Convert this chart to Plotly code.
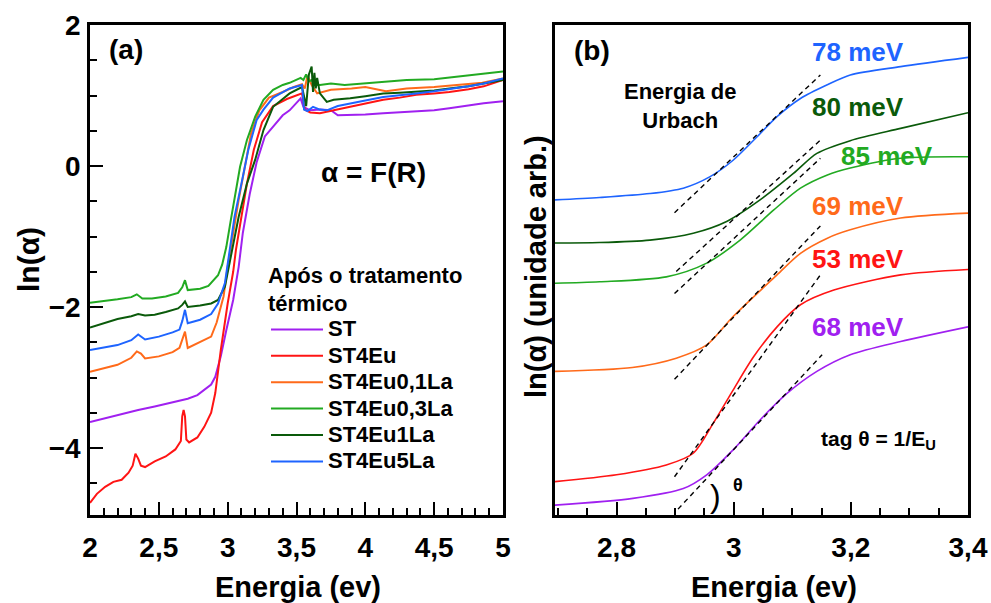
import plotly.graph_objects as go

W, H = 991, 603
FONT = "Liberation Sans"

# ---------------- Panel (a): ln(alpha) vs energy ----------------
names_a = ["ST", "ST4Eu", "ST4Eu0,1La", "ST4Eu0,3La", "ST4Eu1La", "ST4Eu5La"]
colors = {"ST": "#a020f0", "ST4Eu": "#ff1414", "ST4Eu0,1La": "#ff6a1a",
          "ST4Eu0,3La": "#22aa22", "ST4Eu1La": "#0a5a0a", "ST4Eu5La": "#1e64ff"}

E_ST = [2.00, 2.10, 2.23, 2.35, 2.47, 2.60, 2.71, 2.78, 2.83, 2.88, 2.91, 2.95, 2.99, 3.04, 3.08, 3.11,
        3.16, 3.21, 3.27, 3.33, 3.40, 3.45, 3.53, 3.55, 3.60, 3.67, 3.75, 3.80, 3.89, 4.00, 4.13, 4.25,
        4.37, 4.50, 4.61, 4.75, 4.86, 5.00]
A_ST = [-3.63, -3.58, -3.51, -3.46, -3.41, -3.35, -3.30, -3.25, -3.18, -3.10, -2.99, -2.70, -2.33, -1.90,
        -1.43, -0.95, -0.40, 0.05, 0.42, 0.56, 0.72, 0.79, 0.96, 0.84, 0.79, 0.80, 0.79, 0.72, 0.72, 0.73,
        0.75, 0.76, 0.77, 0.79, 0.82, 0.86, 0.89, 0.92]

E_EU = [2.00, 2.05, 2.11, 2.17, 2.23, 2.28, 2.31, 2.33, 2.35, 2.37, 2.40, 2.47, 2.55, 2.62, 2.66, 2.67,
        2.68, 2.69, 2.70, 2.72, 2.78, 2.83, 2.88, 2.91, 2.95, 2.98, 3.00, 3.04, 3.06, 3.10, 3.14, 3.19,
        3.25, 3.33, 3.43, 3.54, 3.56, 3.60, 3.67, 3.77, 3.89, 4.00, 4.13, 4.25, 4.37, 4.50, 4.61, 4.75,
        4.86, 5.00]
A_EU = [-4.78, -4.65, -4.55, -4.48, -4.45, -4.35, -4.25, -4.08, -4.15, -4.25, -4.27, -4.19, -4.12, -4.02,
        -3.90, -3.55, -3.46, -3.55, -3.88, -3.92, -3.85, -3.70, -3.50, -3.22, -2.61, -2.20, -1.95, -1.50,
        -1.19, -0.72, -0.25, 0.23, 0.62, 0.85, 0.95, 1.03, 0.80, 0.76, 0.75, 0.79, 0.84, 0.88, 0.94, 0.97,
        1.01, 1.03, 1.05, 1.09, 1.13, 1.22]

E_01 = [2.00, 2.10, 2.20, 2.30, 2.34, 2.37, 2.40, 2.50, 2.60, 2.65, 2.67, 2.69, 2.71, 2.80, 2.88, 2.92,
        2.97, 3.00, 3.04, 3.08, 3.125, 3.17, 3.23, 3.30, 3.40, 3.48, 3.54, 3.56, 3.58, 3.61, 3.65, 3.75,
        3.90, 4.00, 4.15, 4.30, 4.50, 4.70, 4.85, 5.00]
A_01 = [-2.92, -2.87, -2.82, -2.72, -2.63, -2.66, -2.73, -2.70, -2.64, -2.58, -2.45, -2.35, -2.58, -2.50,
        -2.42, -2.22, -1.85, -1.43, -0.95, -0.48, -0.01, 0.46, 0.79, 0.97, 1.05, 1.12, 1.16, 1.10, 1.28,
        1.15, 1.03, 1.08, 1.10, 1.12, 1.06, 1.10, 1.12, 1.15, 1.18, 1.24]

E_03 = [2.00, 2.10, 2.20, 2.30, 2.34, 2.38, 2.45, 2.55, 2.64, 2.67, 2.69, 2.71, 2.80, 2.86, 2.90, 2.93,
        2.96, 2.99, 3.02, 3.05, 3.09, 3.14, 3.20, 3.26, 3.33, 3.40, 3.45, 3.53, 3.55, 3.57, 3.59, 3.61,
        3.63, 3.67, 3.75, 3.85, 4.00, 4.15, 4.30, 4.50, 4.70, 4.85, 5.00]
A_03 = [-1.94, -1.92, -1.89, -1.86, -1.82, -1.88, -1.88, -1.85, -1.80, -1.72, -1.62, -1.76, -1.74, -1.70,
        -1.62, -1.55, -1.40, -1.15, -0.80, -0.48, -0.01, 0.37, 0.70, 0.94, 1.08, 1.15, 1.18, 1.25, 1.22,
        1.30, 1.20, 1.22, 1.15, 1.15, 1.17, 1.15, 1.17, 1.20, 1.22, 1.23, 1.27, 1.31, 1.34]

E_1 = [2.00, 2.10, 2.20, 2.30, 2.35, 2.40, 2.47, 2.55, 2.64, 2.67, 2.69, 2.71, 2.80, 2.88, 2.93, 2.98,
       3.03, 3.08, 3.14, 3.20, 3.26, 3.33, 3.40, 3.45, 3.54, 3.555, 3.57, 3.59, 3.61, 3.62, 3.63, 3.64,
       3.65, 3.67, 3.72, 3.77, 3.89, 4.00, 4.13, 4.25, 4.37, 4.50, 4.61, 4.75, 4.86, 5.00]
A_1 = [-2.29, -2.23, -2.17, -2.13, -2.10, -2.12, -2.11, -2.07, -2.02, -1.97, -1.92, -2.00, -1.98, -1.95,
       -1.90, -1.71, -1.19, -0.72, -0.25, 0.09, 0.51, 0.84, 0.95, 1.03, 1.12, 1.00, 0.85, 1.30, 1.41,
       1.05, 1.32, 1.10, 1.25, 1.03, 0.91, 0.94, 0.96, 0.99, 1.03, 1.04, 1.05, 1.07, 1.10, 1.13, 1.17, 1.22]

E_5 = [2.00, 2.10, 2.20, 2.30, 2.35, 2.40, 2.50, 2.60, 2.65, 2.67, 2.69, 2.71, 2.80, 2.88, 2.93, 2.98,
       3.017, 3.05, 3.10, 3.15, 3.21, 3.26, 3.33, 3.40, 3.45, 3.54, 3.555, 3.58, 3.62, 3.67, 3.72, 3.80,
       3.89, 4.00, 4.13, 4.25, 4.37, 4.50, 4.61, 4.75, 4.86, 5.00]
A_5 = [-2.61, -2.58, -2.54, -2.47, -2.39, -2.46, -2.42, -2.36, -2.32, -2.20, -2.04, -2.23, -2.18, -2.10,
       -1.95, -1.66, -1.19, -0.72, -0.25, 0.23, 0.65, 0.80, 0.97, 1.05, 1.10, 1.15, 0.80, 0.78, 0.84, 0.80,
       0.79, 0.85, 0.89, 0.93, 0.98, 1.00, 1.03, 1.06, 1.09, 1.13, 1.17, 1.24]

series_a = {"ST": (E_ST, A_ST), "ST4Eu": (E_EU, A_EU), "ST4Eu0,1La": (E_01, A_01),
            "ST4Eu0,3La": (E_03, A_03), "ST4Eu1La": (E_1, A_1), "ST4Eu5La": (E_5, A_5)}

# ---------------- Panel (b): Urbach region (arbitrary units) ----------------
EB_5 = [2.694, 2.771, 2.857, 2.914, 2.959, 2.999, 3.040, 3.074, 3.114, 3.160, 3.199, 3.285, 3.400]
YB_5 = [6.43, 6.48, 6.56, 6.67, 6.90, 7.24, 7.72, 8.13, 8.50, 8.78, 8.98, 9.15, 9.34]
EB_1 = [2.694, 2.771, 2.857, 2.931, 2.988, 3.045, 3.102, 3.142, 3.199, 3.285, 3.400]
YB_1 = [5.55, 5.56, 5.61, 5.75, 5.99, 6.43, 6.97, 7.38, 7.64, 7.89, 8.21]
EB_03 = [2.694, 2.771, 2.885, 2.954, 3.011, 3.068, 3.114, 3.160, 3.199, 3.285, 3.400]
YB_03 = [4.73, 4.76, 4.86, 5.14, 5.61, 6.22, 6.67, 6.94, 7.08, 7.28, 7.31]
EB_01 = [2.694, 2.827, 2.902, 2.954, 2.999, 3.074, 3.114, 3.160, 3.199, 3.285, 3.400]
YB_01 = [2.93, 3.01, 3.20, 3.47, 4.05, 4.90, 5.34, 5.65, 5.82, 6.06, 6.16]
EB_EU = [2.694, 2.800, 2.885, 2.931, 2.965, 2.999, 3.034, 3.074, 3.114, 3.171, 3.285, 3.400]
YB_EU = [0.68, 0.82, 1.02, 1.26, 1.87, 2.55, 3.23, 3.84, 4.29, 4.59, 4.90, 5.01]
EB_ST = [2.694, 2.828, 2.914, 2.954, 2.999, 3.045, 3.091, 3.142, 3.199, 3.285, 3.400]
YB_ST = [0.20, 0.34, 0.54, 0.82, 1.33, 1.94, 2.48, 2.93, 3.27, 3.54, 3.84]

series_b = {"ST4Eu5La": (EB_5, YB_5), "ST4Eu1La": (EB_1, YB_1), "ST4Eu0,3La": (EB_03, YB_03),
            "ST4Eu0,1La": (EB_01, YB_01), "ST4Eu": (EB_EU, YB_EU), "ST": (EB_ST, YB_ST)}

# tangent (Urbach fit) lines: energy endpoints and values
TAN_E0 = {"ST4Eu5La": 2.899, "ST4Eu1La": 2.902, "ST4Eu0,3La": 2.899, "ST4Eu0,1La": 2.899, "ST4Eu": 2.899, "ST": 2.905}
TAN_E1 = {"ST4Eu5La": 3.148, "ST4Eu1La": 3.148, "ST4Eu0,3La": 3.148, "ST4Eu0,1La": 3.148, "ST4Eu": 3.148, "ST": 3.151}
TAN_Y0 = {"ST4Eu5La": 6.17, "ST4Eu1La": 4.97, "ST4Eu0,3La": 4.52, "ST4Eu0,1La": 2.77, "ST4Eu": 0.78, "ST": 0.12}
TAN_Y1 = {"ST4Eu5La": 8.98, "ST4Eu1La": 7.65, "ST4Eu0,3La": 7.28, "ST4Eu0,1La": 5.90, "ST4Eu": 4.90, "ST": 3.27}

urbach_labels = ["78 meV", "80 meV", "85 meV", "69 meV", "53 meV", "68 meV"]
urbach_series = ["ST4Eu5La", "ST4Eu1La", "ST4Eu0,3La", "ST4Eu0,1La", "ST4Eu", "ST"]

fig = go.Figure()

for n in names_a:
    ex, ay = series_a[n]
    fig.add_trace(go.Scatter(x=ex, y=ay, mode="lines", name=f'<span style="font-size:22px">{n}</span>',
                             line=dict(color=colors[n], width=2), xaxis="x", yaxis="y"))

for n in urbach_series:
    ex, by = series_b[n]
    fig.add_trace(go.Scatter(x=ex, y=by, mode="lines", showlegend=False,
                             line=dict(color=colors[n], width=1.6, shape="spline", smoothing=0.8),
                             xaxis="x2", yaxis="y2"))
    fig.add_trace(go.Scatter(x=[TAN_E0[n], TAN_E1[n]], y=[TAN_Y0[n], TAN_Y1[n]], mode="lines",
                             showlegend=False, line=dict(color="black", width=1.4, dash="5px,4px"),
                             xaxis="x2", yaxis="y2"))


def px(x):
    return x / W


def py(y):
    return 1 - y / H


tickfont = dict(family=FONT, size=28, color="black", weight="bold")
common_axis = dict(showline=True, linewidth=2.5, linecolor="black", mirror=True, showgrid=False,
                   zeroline=False, ticks="inside", tickcolor="black", tickwidth=1.5, tickfont=tickfont,
                   automargin=False)

fig.update_layout(
    width=W, height=H, margin=dict(l=0, r=0, t=0, b=0, autoexpand=False),
    paper_bgcolor="white", plot_bgcolor="white",
    separators=", ",
    font=dict(family=FONT, color="black"),
    xaxis=dict(domain=[px(90), px(503)], range=[2, 5], dtick=0.5, tick0=2, ticklen=13,
               ticklabelstandoff=6,
               minor=dict(dtick=0.1, ticklen=7, ticks="inside", tickcolor="black", tickwidth=1.5),
               anchor="y", **common_axis),
    yaxis=dict(domain=[py(515), py(25)], range=[-4.95, 2], dtick=2, tick0=0, ticklen=13,
               ticklabelstandoff=1,
               minor=dict(dtick=0.5, ticklen=7, ticks="inside", tickcolor="black", tickwidth=1.5),
               anchor="x", **common_axis),
    xaxis2=dict(domain=[px(555), px(968)], range=[2.695, 3.4], dtick=0.2, tick0=2.8, ticklen=13,
                ticklabelstandoff=6,
                minor=dict(dtick=0.05, ticklen=7, ticks="inside", tickcolor="black", tickwidth=1.5),
                anchor="y2", **common_axis),
    yaxis2=dict(domain=[py(515), py(25)], range=[0, 10], showticklabels=False, ticks="",
                showline=True, linewidth=2.5, linecolor="black", mirror=True, showgrid=False,
                zeroline=False, anchor="x2", automargin=False),
    legend=dict(x=px(266), y=py(254), xanchor="left", yanchor="top", bgcolor="rgba(0,0,0,0)",
                font=dict(family=FONT, size=18, color="black", weight="bold"),
                title=dict(text="Após o tratamento<br>térmico",
                           font=dict(family=FONT, size=22, color="black", weight="bold")),
                itemwidth=52, tracegroupgap=0, traceorder="normal"),
)

ann = []


def add_text(text, x, y, size, color="black", angle=0, bold=True, xanchor="center"):
    ann.append(dict(text=text, x=px(x), y=py(y), xref="paper", yref="paper", showarrow=False,
                    xanchor=xanchor, yanchor="middle", textangle=angle,
                    font=dict(family=FONT, size=size, color=color, weight="bold" if bold else "normal")))


add_text("(a)", 126, 50, 28)
add_text("(b)", 592, 51, 28)
add_text("α = F(R)", 373, 172, 28)
add_text("ln(α)", 28, 260, 30, angle=-90)
add_text("ln(α) (unidade arb.)", 536, 267, 29, angle=-90)
add_text("Energia (ev)", 298, 587, 29)
add_text("Energia (ev)", 774, 587, 29)
add_text("Energia de<br>Urbach", 680, 106, 22)
add_text("tag θ = 1/E<sub>U</sub>", 878, 440, 21)
add_text(")", 715, 496, 32, bold=False)
add_text("θ", 738, 485, 18)

label_pos = [(858, 52), (858, 107), (887, 156), (858, 206), (858, 259), (858, 327)]
for lab, n, (lx, ly) in zip(urbach_labels, urbach_series, label_pos):
    add_text(lab, lx, ly, 26, color=colors[n])

fig.update_layout(annotations=ann)
fig.write_html("out.html")
